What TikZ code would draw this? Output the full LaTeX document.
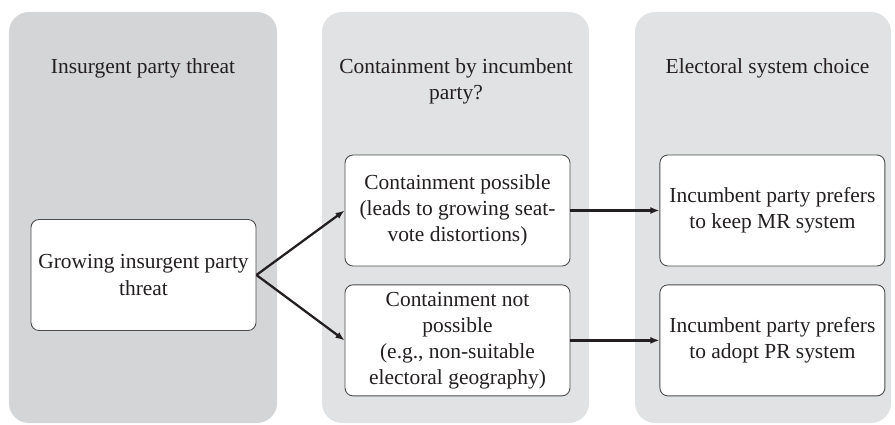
\documentclass[tikz,border=0pt]{standalone}
\usepackage{fontspec}
\setmainfont{Liberation Serif}
\usetikzlibrary{arrows.meta}
\usetikzlibrary{positioning}

\definecolor{paneldark}{HTML}{D4D5D7}
\definecolor{panellight}{HTML}{E1E2E3}
\definecolor{inkgray}{HTML}{231F20}

\tikzset{
  panel/.style={rounded corners=0.4cm},
  stage/.style={draw=black!70, line width=0.5pt, fill=white, rounded corners=0.16cm,
    minimum width=4.5cm, minimum height=2.22cm, inner sep=0pt, align=center,
    font=\fontsize{12.2}{14.8}\selectfont, text=inkgray},
  heading/.style={align=center, font=\fontsize{12.2}{14.8}\selectfont, text=inkgray},
  link/.style={line width=1.3pt, draw=inkgray, -{Latex[length=1.8mm, width=1.4mm]}}
}

\begin{document}
\begin{tikzpicture}
            \useasboundingbox (0,0) rectangle (17.9,8.48);

            % three columns
            \fill [panel, paneldark] (0.18,0.02) rectangle (5.54,8.24);
            \fill [panel, panellight] (6.44,0.02) rectangle (11.78,8.24);
            \fill [panel, panellight] (12.70,0.02) rectangle (17.82,8.24);

            \node [heading] (headThreat) at (2.86,7.12) {Insurgent party threat};
            \node [heading] (headContain) at (9.12,6.86) {Containment by incumbent\\party?};
            \node [heading] (headChoice) at (15.35,7.12) {Electoral system choice};

            % boxes
            \node [stage] (growing) at (2.87,2.98) {Growing insurgent party\\threat};
            \node [stage] (possible) at (9.15,4.27) {Containment possible\\(leads to growing seat-\\vote distortions)};
            \node [stage, below=0.36cm of possible] (notPossible) {Containment not\\possible\\(e.g., non-suitable\\electoral geography)};
            \node [stage, right=1.78cm of possible] (keepMR) {Incumbent party prefers\\to keep MR system};
            \node [stage, right=1.78cm of notPossible] (adoptPR) {Incumbent party prefers\\to adopt PR system};

            % arrows
            \draw [link] (growing.east) -- (possible.west);
            \draw [link] (growing.east) -- (notPossible.west);
            \draw [link] (possible.east) -- (keepMR.west);
            \draw [link] (notPossible.east) -- (adoptPR.west);
        \end{tikzpicture}
\end{document}
